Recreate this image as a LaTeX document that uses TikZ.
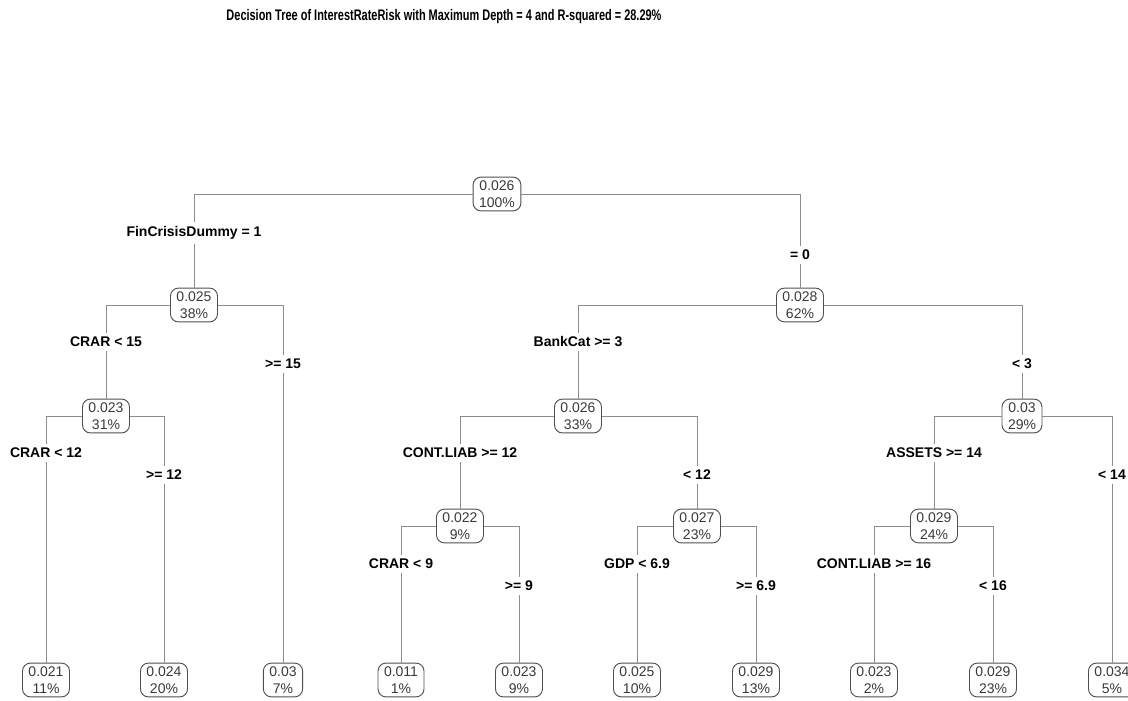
\documentclass[tikz,border=0pt]{standalone}
\usepackage{fontspec}
\setmainfont{Liberation Sans}
\definecolor{linegray}{HTML}{8C8C8C}
\definecolor{boxgray}{HTML}{505050}
\definecolor{txtgray}{HTML}{3A3A3A}
\begin{document}
\begin{tikzpicture}[x=0.75pt,y=-0.75pt,
  box/.style={draw=boxgray, rounded corners=6pt, fill=white, align=center,
    inner xsep=4.5pt, inner ysep=2.6pt, text=txtgray, line width=0.7pt,
    font=\fontsize{10.5}{12.75}\selectfont},
  edge/.style={draw=linegray, line width=0.75pt},
  lab/.style={fill=white, inner xsep=1.5pt, inner ysep=3pt,
    font=\fontsize{10.5}{12.75}\selectfont\bfseries}]
\useasboundingbox (0,0) rectangle (1128,700);
\clip (0,0) rectangle (1128,700);
\node[font=\fontsize{11.5}{13}\selectfont\bfseries] (title) at (444,17)
  {\scalebox{0.715}[1]{Decision Tree of InterestRateRisk with Maximum Depth = 4 and R-squared = 28.29\%}};
% internal nodes
\node[box] (n1) at (497,194) {0.026\\100\%};
\node[box] (n2) at (194,305) {0.025\\38\%};
\node[box] (n3) at (800,305) {0.028\\62\%};
\node[box] (n4) at (106,416) {0.023\\31\%};
\node[box] (n6) at (578,416) {0.026\\33\%};
\node[box] (n7) at (1022,416) {0.03\\29\%};
\node[box] (n8) at (460,526) {0.022\\9\%};
\node[box] (n9) at (697,526) {0.027\\23\%};
\node[box] (n10) at (934,526) {0.029\\24\%};
% leaves
\node[box] (l1) at (46,680) {0.021\\11\%};
\node[box] (l2) at (164,680) {0.024\\20\%};
\node[box] (l3) at (283,680) {0.03\\7\%};
\node[box] (l4) at (401,680) {0.011\\1\%};
\node[box] (l5) at (519,680) {0.023\\9\%};
\node[box] (l6) at (637,680) {0.025\\10\%};
\node[box] (l7) at (756,680) {0.029\\13\%};
\node[box] (l8) at (874,680) {0.023\\2\%};
\node[box] (l9) at (993,680) {0.029\\23\%};
\node[box] (l10) at (1112,680) {0.034\\5\%};
% edges
\draw[edge] (n1.west) -| (n2.north);
\draw[edge] (n1.east) -| (n3.north);
\draw[edge] (n2.west) -| (n4.north);
\draw[edge] (n2.east) -| (l3.north);
\draw[edge] (n3.west) -| (n6.north);
\draw[edge] (n3.east) -| (n7.north);
\draw[edge] (n4.west) -| (l1.north);
\draw[edge] (n4.east) -| (l2.north);
\draw[edge] (n6.west) -| (n8.north);
\draw[edge] (n6.east) -| (n9.north);
\draw[edge] (n7.west) -| (n10.north);
\draw[edge] (n7.east) -| (l10.north);
\draw[edge] (n8.west) -| (l4.north);
\draw[edge] (n8.east) -| (l5.north);
\draw[edge] (n9.west) -| (l6.north);
\draw[edge] (n9.east) -| (l7.north);
\draw[edge] (n10.west) -| (l8.north);
\draw[edge] (n10.east) -| (l9.north);
% split labels
\node[lab] (s2) at (194,233) {FinCrisisDummy = 1};
\node[lab] (s3) at (800,255) {= 0};
\node[lab] (s4) at (106,342) {CRAR < 15};
\node[lab] (s5) at (283,364) {>= 15};
\node[lab] (s6) at (578,342) {BankCat >= 3};
\node[lab] (s7) at (1022,364) {< 3};
\node[lab] (s8) at (46,453) {CRAR < 12};
\node[lab] (s9) at (164,475) {>= 12};
\node[lab] (s10) at (460,453) {CONT.LIAB >= 12};
\node[lab] (s11) at (697,475) {< 12};
\node[lab] (s12) at (934,453) {ASSETS >= 14};
\node[lab] (s13) at (1112,475) {< 14};
\node[lab] (s14) at (401,564) {CRAR < 9};
\node[lab] (s15) at (519,586) {>= 9};
\node[lab] (s16) at (637,564) {GDP < 6.9};
\node[lab] (s17) at (756,586) {>= 6.9};
\node[lab] (s18) at (874,564) {CONT.LIAB >= 16};
\node[lab] (s19) at (993,586) {< 16};
\end{tikzpicture}
\end{document}
